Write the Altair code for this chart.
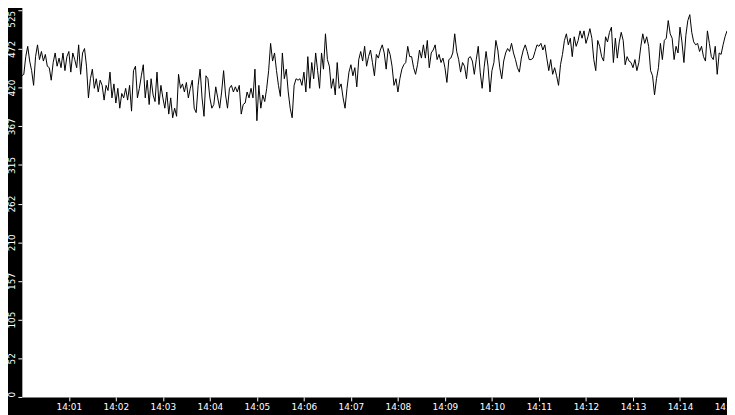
import altair as alt
import pandas as pd

# Values, one reading every ~2.5 s (14:00:00 -> 14:15:00)
seg_a = [436, 438, 462, 476, 456, 443, 423, 462, 478, 458, 469, 456, 465, 449, 447, 430,
         454, 467, 449, 460, 447, 467, 443, 462, 469, 441, 467, 458, 447, 478, 438, 467,
         473, 449, 406, 432, 445, 419, 432, 414, 430, 423, 403, 423, 416, 441, 406, 425,
         399, 419, 392, 412, 406, 419, 403, 423, 388, 443]
seg_b = [449, 406, 419, 436, 451, 406, 430, 397, 432, 410, 401, 441, 397, 423, 406, 392,
         414, 384, 406, 379, 392, 381, 438, 419, 425, 414, 427, 406, 419, 430]
seg_c = [392, 386, 423, 445, 406, 381, 436, 432, 406, 392, 397, 421, 406, 392, 414, 443,
         410, 392, 419, 423, 414, 421, 414, 423, 384, 397, 399, 414, 406, 419, 406, 445,
         375, 423]
seg_d = [392, 410, 401, 419, 443, 480, 456, 467, 443, 423, 408, 467, 432, 445, 414, 392,
         379, 423, 432, 430, 432, 423, 441, 414, 462, 419, 454, 432, 467, 443, 419, 467,
         445, 493, 458]
seg_e = [449, 419, 432, 410, 454, 419, 425, 406, 392, 419, 441, 451, 436, 447, 421, 458,
         469, 456, 476, 449, 462, 471, 454, 436, 465, 460, 471, 478, 467, 445, 473, 465,
         449, 423]
seg_f = [432, 414, 432, 445, 451, 454, 476, 462, 462, 447, 438, 451, 471, 460, 478, 460,
         484, 447, 467, 471, 478, 458, 465, 454, 460, 447, 427, 458, 460, 467, 493, 469,
         458, 441, 454]
seg_g = [449, 432, 460, 462, 456, 438, 458, 476, 441, 419, 447, 469, 449, 414, 443, 454,
         484, 471, 447, 432, 456, 467, 473, 469, 480, 467, 458, 447, 441, 460, 471, 478,
         469, 458]
seg_h = [458, 460, 469, 478, 476, 480, 471, 478, 460, 443, 458, 438, 447, 436, 423, 451,
         465, 484, 493, 478, 487, 462, 489, 476, 484, 497, 487, 497, 480, 489, 500, 487,
         458, 443, 484]
seg_i = [476, 462, 456, 489, 482, 495, 502, 454, 487, 460, 482, 495, 484, 451, 462, 456,
         454, 447, 458, 443, 454, 476, 493, 480, 489, 476, 443, 436, 410, 432, 447, 480,
         458, 484]
seg_j = [487, 511, 493, 487, 458, 476, 467, 502, 482, 454, 491, 511, 519, 495, 482, 478,
         480, 469, 476, 462, 456, 497, 480, 462, 458, 476, 438, 467, 465, 478, 489, 497]

values = seg_a + seg_b + seg_c + seg_d + seg_e + seg_f + seg_g + seg_h + seg_i + seg_j
times = pd.date_range("2024-01-01 14:00:00", periods=len(values), freq="2500ms")

y_ticks = [0, 52.5, 105, 157.5, 210, 262.5, 315, 367.5, 420, 472.5, 525]
x_minutes = list(range(1, 16))

df = pd.DataFrame({"t": times.strftime("%Y-%m-%dT%H:%M:%S.%f").str[:-3], "v": values})

font = "DejaVu Sans"
x_scale = alt.Scale(
    domain=[
        alt.DateTime(year=2024, month=1, date=1, hours=14, minutes=0),
        alt.DateTime(year=2024, month=1, date=1, hours=14, minutes=15),
    ]
)
y_scale = alt.Scale(domain=[0, 525], nice=False, zero=True)

# Black band behind the axes (thick axis domain lines, pushed outside the plot)
x_band = alt.Axis(orient="bottom", offset=16, domainWidth=32, domainColor="black", domainCap="square",
                  ticks=False, labels=False, grid=False, zindex=0)
y_band = alt.Axis(orient="left", offset=14, domainWidth=28, domainColor="black", domainCap="square",
                  ticks=False, labels=False, grid=False, zindex=0)

x_axis = alt.Axis(
    orient="bottom",
    values=[alt.DateTime(year=2024, month=1, date=1, hours=14, minutes=m) for m in x_minutes],
    format="%H:%M",
    labelColor="white",
    labelFont=font,
    labelFontSize=9,
    labelPadding=2,
    labelFlush=False,
    labelOverlap=False,
    tickColor="white",
    tickSize=4,
    domain=False,
    grid=False,
    zindex=1,
)

y_axis = alt.Axis(
    orient="left",
    values=y_ticks,
    labelExpr="'' + floor(datum.value)",
    labelAngle=-90,
    labelAlign={"expr": "datum.value >= 525 ? 'right' : (datum.value <= 0 ? 'left' : 'center')"},
    labelBaseline="bottom",
    labelColor="white",
    labelFont=font,
    labelFontSize=9,
    labelPadding=1,
    labelOverlap=False,
    tickColor="white",
    tickSize=4,
    domain=False,
    grid=False,
    zindex=1,
)

base = alt.Chart(df)

band = base.mark_line(opacity=0).encode(
    x=alt.X("t:T", scale=x_scale, axis=x_band, title=None),
    y=alt.Y("v:Q", scale=y_scale, axis=y_band, title=None),
)

line = base.mark_line(color="black", strokeWidth=1, clip=True).encode(
    x=alt.X("t:T", scale=x_scale, axis=x_axis, title=None),
    y=alt.Y("v:Q", scale=y_scale, axis=y_axis, title=None),
)

chart = (
    alt.layer(band, line)
    .resolve_axis(x="independent", y="independent")
    .properties(
        width=713,
        height=391,
        background="white",
        padding={"left": 14, "top": 0, "right": 0, "bottom": 16},
        autosize=alt.AutoSizeParams(type="none"),
    )
    .configure_view(fill="white", strokeWidth=0)
)

chart.save("out.html", embed_options={"renderer": "svg", "actions": False})
